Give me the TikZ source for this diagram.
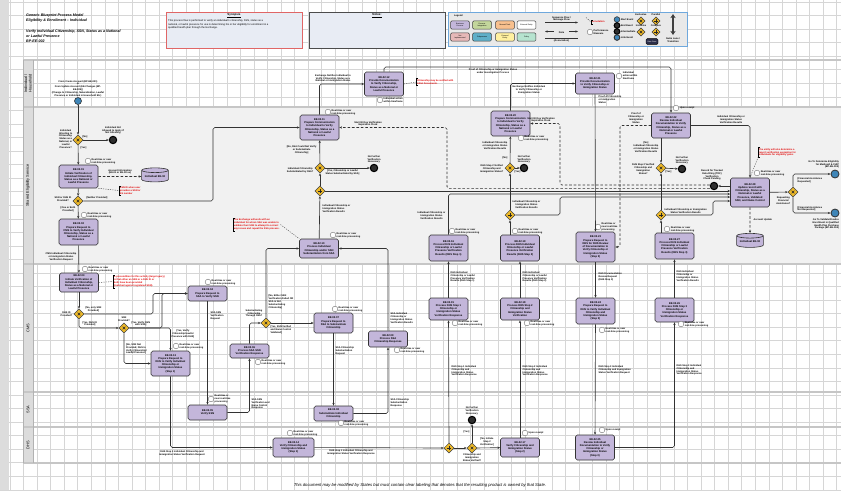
\documentclass[tikz,border=0pt]{standalone}
\usepackage{fontspec}
\setmainfont{Liberation Sans}
\usetikzlibrary{shapes.geometric,arrows.meta,positioning}

\definecolor{taskfill}{HTML}{C3B6DA}
\definecolor{gwfill}{HTML}{EDB92A}
\definecolor{lanegray}{HTML}{F1F1F1}
\definecolor{hdrgray}{HTML}{DCDCDC}
\definecolor{gridgray}{HTML}{D6D6D6}
\definecolor{noteblue}{HTML}{E8ECF4}
\definecolor{startblue}{HTML}{3F86B8}
\definecolor{annred}{HTML}{E00000}
\definecolor{synred}{HTML}{E06666}
\definecolor{legblue}{HTML}{6FA8DC}
\definecolor{leggreen}{HTML}{C3D69B}
\definecolor{legorange}{HTML}{F8C08E}
\definecolor{legpink}{HTML}{E6B8B7}
\definecolor{legteal}{HTML}{5FAFC8}
\definecolor{legyellow}{HTML}{FFF0A0}
\definecolor{legmint}{HTML}{B6E3CF}
\definecolor{navy}{HTML}{2B2E4A}

\newcommand\tf{\fontsize{2.25}{2.75}\selectfont\bfseries}
\newcommand\lf{\fontsize{2.05}{2.45}\selectfont\bfseries}
\newcommand\rtp{Real-time or near\\real-time processing}

\begin{document}
\begin{tikzpicture}[x=0.03cm, y=-0.03cm,
  task/.style={rectangle, draw=black!80, line width=0.55pt, rounded corners=1.5pt, fill=taskfill, minimum width=1.17cm, align=center, inner sep=0.3pt, font=\tf},
  gwbase/.style={diamond, draw=black!75, line width=0.45pt, fill=gwfill, minimum size=0.3cm, inner sep=0pt},
  gw/.style={gwbase, path picture={\draw[line width=0.5pt, black!85]
      ([shift={(-0.04cm,-0.04cm)}]path picture bounding box.center) -- ([shift={(0.04cm,0.04cm)}]path picture bounding box.center)
      ([shift={(-0.04cm,0.04cm)}]path picture bounding box.center) -- ([shift={(0.04cm,-0.04cm)}]path picture bounding box.center);}},
  gwp/.style={gwbase, path picture={\draw[line width=0.6pt, black!85]
      ([xshift=-0.05cm]path picture bounding box.center) -- ([xshift=0.05cm]path picture bounding box.center)
      ([yshift=-0.05cm]path picture bounding box.center) -- ([yshift=0.05cm]path picture bounding box.center);}},
  startev/.style={circle, draw=black!80, fill=startblue, line width=0.5pt, minimum size=0.21cm, inner sep=0pt},
  endev/.style={circle, draw=black, fill=black!82, line width=0.9pt, minimum size=0.22cm, inner sep=0pt},
  linkev/.style={circle, draw=black!80, fill=startblue, line width=0.7pt, minimum size=0.24cm, inner sep=0pt},
  pm/.style={circle, draw=black!55, fill=white, line width=0.35pt, minimum size=0.17cm, inner sep=0pt},
  pmlbl/.style={font=\lf, align=left, inner sep=0.4pt},
  lbl/.style={font=\lf, align=center, inner sep=0.3pt},
  redann/.style={font=\lf, text=annred, align=left, anchor=west, inner sep=0.6pt},
  brk/.style={draw=black, line width=0.45pt},
  store/.style={cylinder, shape border rotate=90, aspect=0.22, draw=black!80, line width=0.5pt, fill=taskfill, minimum width=0.8cm, minimum height=0.42cm, font=\tf, inner sep=0.4pt},
  arr/.style={-{Stealth[length=2.3pt,width=1.9pt]}, line width=0.55pt, draw=black!80, rounded corners=1.5pt},
  dsh/.style={arr, dash pattern=on 2.2pt off 1.6pt},
  assoc/.style={line width=0.35pt, draw=black!70, dash pattern=on 1pt off 1pt},
  gridln/.style={draw=gridgray, line width=0.45pt},
  laneln/.style={draw=gray!45, line width=1.3pt},
  lanetxt/.style={rotate=90, font=\fontsize{3.3}{3.9}\selectfont, align=center},
  legbox/.style={rectangle, rounded corners=1pt, draw=black!75, line width=0.4pt, minimum width=0.56cm, minimum height=0.25cm, align=center, inner sep=0.2pt, font=\fontsize{1.6}{1.9}\selectfont}
]
\useasboundingbox (0,0) rectangle (841,490);
\fill[white] (0,0) rectangle (841,490);

% grid paper
\foreach \gx in {10,23.55,...,841} \draw[gridln] (\gx,0) -- (\gx,490);
\foreach \gy in {2,15.55,...,490} \draw[gridln] (0,\gy) -- (841,\gy);
\fill[hdrgray] (0,0) rectangle (9,490);

% swim lanes
\fill[lanegray] (33,107) rectangle (841,264);
\fill[hdrgray] (23,60) rectangle (33,463);
\foreach \ly in {60,107,264,392,427,463} \draw[laneln] (23,\ly) -- (841,\ly);
\draw[draw=gray!60, line width=0.6pt] (23,60) -- (23,463) (33,60) -- (33,463);
\node[lanetxt] (lnInd) at (28,83.5) {Individual /\\Household};
\node[lanetxt] (lnShr) at (28,185.5) {Shared Eligibility Service};
\node[lanetxt] (lnCms) at (28,328) {CMS};
\node[lanetxt] (lnSsa) at (28,409.5) {SSA};
\node[lanetxt] (lnDhs) at (28,445) {DHS};

% header
\node[anchor=north west, font=\fontsize{3.1}{4}\selectfont\bfseries\itshape, align=left, inner sep=0pt] (title) at (26,13.5)
  {Generic Blueprint Process Model\\Eligibility \& Enrollment -- Individual\\[6pt]Verify Individual Citizenship, SSN, Status as a National\\or Lawful Presence\\BP-EE-002};
\node[draw=synred, line width=0.7pt, fill=noteblue, minimum width=4.08cm, minimum height=1.08cm] (synopsis) at (234,30) {};
\node[font=\fontsize{2.5}{3}\selectfont\bfseries] (synT) at (234,15.5) {\underline{Synopsis}};
\node[anchor=north west, font=\fontsize{2.2}{2.9}\selectfont, align=left, inner sep=0pt] (synB) at (168,19.5)
  {This process flow is performed to verify an individual's citizenship, SSN, status as a\\national, or lawful presence for use in determining his or her eligibility for enrollment in a\\qualified health plan through the Exchange.};
\node[draw=black!70, line width=0.7pt, fill=noteblue, minimum width=4.08cm, minimum height=1.08cm] (notes) at (377,30) {};
\node[font=\fontsize{2.5}{3}\selectfont\bfseries] (notesT) at (377,15.5) {\underline{Notes:}};

% legend
\node[draw=legblue, line width=0.7pt, fill=gray!17, minimum width=7.17cm, minimum height=1.02cm] (legend) at (567.5,29) {};
\node[font=\lf, anchor=west] (legT) at (450,15.5) {Legend};
\node[legbox, fill=taskfill] (lg1) at (460,25) {Business\\Process};
\node[legbox, fill=leggreen] (lg2) at (482,25) {Process\\Integration};
\node[legbox, fill=legorange] (lg3) at (505,25) {Manual Task};
\node[legbox, fill=white] (lg4) at (526.5,25) {External Entity};
\node[legbox, fill=legpink] (lg5) at (460,37) {Not\\Implemented};
\node[legbox, fill=legteal] (lg6) at (482,37) {Subprocess};
\node[legbox, fill=legyellow] (lg7) at (505,37) {External\\Entity};
\node[legbox, fill=legmint] (lg8) at (526.5,37) {Policy};
\coordinate (lfa) at (545,22.5); \coordinate (lfb) at (578,22.5);
\draw[arr] (lfa) -- (lfb);
\node[lbl, anchor=south] (lfT) at (561.5,22) {Sequence Flow /\\Message Flow};
\coordinate (lda) at (545,31.5); \coordinate (ldb) at (554,31.5);
\coordinate (ldc) at (569,31.5); \coordinate (ldd) at (578,31.5);
\draw[arr] (ldb) -- (lda);
\draw[arr] (ldc) -- (ldd);
\node[lbl] (ldT) at (561.5,32.5) {Data};
\coordinate (laa) at (545,38); \coordinate (lab) at (578,38);
\draw[line width=0.5pt, black!80] (laa) -- (lab);
\node[lbl] (laT) at (561.5,40.8) {(Association)};
\node[redann] (lgAnn) at (591,22) {Annotation};
\draw[brk] ([xshift=0.06cm]lgAnn.north west) -- (lgAnn.north west) -- (lgAnn.south west) -- ([xshift=0.06cm]lgAnn.south west);
\coordinate (lgAs) at (586,17.5);
\draw[assoc] (lgAs) -- (lgAnn.west);
\node[pm, label={[pmlbl]east:Performance\\Measure}] (lgPm) at (590,32) {};
\node[startev, minimum size=0.17cm, label={[pmlbl]east:Start Event}] (lgS) at (617,19.5) {};
\node[endev, minimum size=0.17cm, label={[pmlbl]east:End Event}] (lgE) at (617,25.5) {};
\node[endev, minimum size=0.17cm, label={[pmlbl]east:Intermediate}] (lgI) at (617,31.5) {};
\node[startev, minimum size=0.17cm, line width=0.8pt, label={[pmlbl]east:Link Event}] (lgL) at (617,37.5) {};
\node[gw, minimum size=0.25cm, label={[pmlbl]north:Exclusive}] (lgG1) at (641,21) {};
\node[gwp, minimum size=0.25cm, label={[pmlbl]north:Parallel}] (lgG2) at (656,21) {};
\node[gw, minimum size=0.25cm, label={[pmlbl]north:Inclusive}] (lgG3) at (641,32) {};
\node[gwp, minimum size=0.25cm, label={[pmlbl]north:Complex}] (lgG4) at (656,32) {};
\node[rectangle, rounded corners=1pt, draw=black, fill=navy, text=white, minimum width=0.36cm, minimum height=0.17cm, inner sep=0.2pt, font=\fontsize{1.6}{1.9}\selectfont] (lgDs) at (652,41.5) {Data Store};
\coordinate (lgu) at (673,14); \coordinate (lgd) at (673,35);
\draw[line width=1.4pt, black!75, {Stealth[length=3.5pt,width=4.5pt]}-{Stealth[length=3.5pt,width=4.5pt]}] (lgu) -- (lgd);
\node[lbl] (lgSw) at (673,40.5) {Swim Lane /\\Transition};

% Individual / Household lane
\node[startev] (start) at (78,101) {};
\node[lbl, anchor=south] (lStart) at (78,97.5) {From Create Account (BP-EE-001)\\or\\From Update Account (EE-Changes (BP-\\EE-005))\\(Change to Citizenship, Naturalization, Lawful\\Presence or Individual in Household Etc)};
\node[task, minimum height=0.72cm] (indDocA) at (384,84) {EE-02.12\\Provide Documentation\\to Verify Citizenship,\\Status as a National or\\Lawful Presence};
\node[task, minimum height=0.63cm] (indDocB) at (595,83.5) {EE-02.21\\Provide Documentation\\to Verify Citizenship or\\Immigration Status};
\node[pm, label={[pmlbl]east:Individual action\\within timeframe}] (pm1) at (380,100) {};
\node[pm, label={[pmlbl]east:Individual\\action within\\timeframe}] (pm2) at (619,76) {};
\node[redann] (r4) at (416,82) {Citizenship may be verified with\\Initial Documents.};

% Shared Eligibility Service lane
\node[gw] (gAtt) at (78,140) {};
\node[endev] (endNo) at (113,140) {};
\node[task, minimum height=0.69cm] (initVer) at (78.5,176.5) {EE-02.01\\Initiate Verification of\\Individual Citizenship,\\Status as a National or\\Lawful Presence};
\node[store] (store1) at (155,176.5) {Individual EE-02};
\node[redann] (r1) at (119,190.5) {SSN ID when user\\provides a SSN or\\SS number};
\node[gw] (gId) at (78,201) {};
\node[task, minimum height=0.78cm] (prepCMS) at (78.5,232) {EE-02.02\\Prepare Request to\\CMS to Verify Individual\\Citizenship, Status as a\\National or Lawful\\Presence};
\node[task, minimum height=0.75cm] (commA) at (319.5,127.5) {EE-02.11\\Prepare Communication\\to Individual to Verify\\Citizenship, Status as a\\National or Lawful\\Presence};
\node[gw] (gSsaCit) at (320,168) {};
\node[endev] (endA) at (374,168) {};
\node[gwp] (gSsaJoin) at (320,191) {};
\node[task, minimum height=0.57cm] (procSSA) at (319,248.5) {EE-02.10\\Process Individual\\Citizenship and/or SSN\\Substantiation from SSA};
\node[redann] (r3) at (233,224.5) {The Exchange will work with an\\individual for whom SSA was unable to\\validate their SSN to attempt to correct\\any issues and repeat the SSA process.};
\node[task, minimum height=0.75cm] (commB) at (510.5,123.5) {EE-02.20\\Prepare Communication\\to Individual to Verify\\Citizenship, Status as a\\National or Lawful\\Presence};
\node[gw] (gS2) at (510,168) {};
\node[endev] (endB) at (524,168) {};
\node[gwp] (gS2b) at (510,215) {};
\node[task, minimum height=0.78cm] (res1) at (448.5,248) {EE-02.16\\Process DHS Individual\\Citizenship or Lawful\\Presence Verification\\Results (DHS Step 1)};
\node[task, minimum height=0.78cm] (res2) at (520,248) {EE-02.19\\Process DHS Individual\\Citizenship or Lawful\\Presence Verification\\Results (DHS Step 2)};
\node[task, minimum height=0.9cm] (prepRev) at (595.5,247) {EE-02.23\\Prepare Request to\\DHS for DHS Review\\of Documentation to\\Verify Citizenship or\\Immigration Status\\(Step 3)};
\node[task, minimum height=0.75cm] (review) at (671,125.5) {EE-02.22\\Review Individual\\Documentation to Verify\\Citizenship, Status as a\\National or Lawful\\Presence};
\node[gw] (gRev) at (661,168) {};
\node[endev] (endC) at (682,169) {};
\node[gwp] (gRevb) at (661,215) {};
\node[task, minimum height=0.78cm] (res3) at (674.5,246) {EE-02.27\\Process DHS Individual\\Citizenship or Lawful\\Presence Verification\\Results (DHS Step 3)};
\node[task, minimum height=0.87cm] (update) at (750,192.5) {EE-02.28\\Update record with\\Citizenship, Status as a\\National or Lawful\\Presence, Validated\\SSN, and Name Control};
\node[endev] (endTrk) at (714,186) {};
\node[store] (store2) at (750,242) {Individual EE-02};
\node[redann] (r5) at (758,152.5) {The entity will also determine a\\report verification exemption for\\individuals for eligibility gates};
\node[gw] (gFin) at (793,192) {};
\node[linkev] (linkE) at (835,174) {};
\node[linkev] (linkF) at (835,213) {};

% CMS lane
\node[task, minimum height=0.57cm] (cmsInit) at (79,282.5) {EE-02.03\\Initiate Verification of\\Individual Citizenship,\\Status as a National or\\Lawful Presence};
\node[redann] (r2) at (113,281.5) {A precondition for this activity (target query)\\is that either an SSN or a DHS ID or\\both have been provided\\(matched against registered SSN).};
\node[gw] (gDhsId) at (79,314) {};
\node[gw] (gSsn) at (124,328) {};
\node[task, minimum height=0.45cm] (prepSSA) at (207.5,293.5) {EE-02.04\\Prepare Request to\\SSA to Verify SSN};
\node[task, minimum height=0.42cm] (procSSN) at (249.5,351) {EE-02.06\\Process SSA SSN\\Verification Response};
\node[gw] (gSub) at (266,323) {};
\node[task, minimum height=0.6cm] (prepSub) at (333.5,323) {EE-02.07\\Prepare Request to\\SSA to Substantiate\\Citizenship};
\node[task, minimum height=0.48cm] (procCit) at (388,339) {EE-02.09\\Process SSA\\Citizenship Response};
\node[task, minimum height=0.75cm] (prepDHS1) at (170.5,363.5) {EE-02.13\\Prepare Request to\\DHS to Verify Individual\\Citizenship or\\Immigration Status\\(Step 1)};
\node[task, minimum height=0.66cm] (procDHS1) at (448.5,309) {EE-02.15\\Process DHS Step 1\\Citizenship or\\Immigration Status\\Verification Response};
\node[task, minimum height=0.66cm] (procDHS2) at (520,309) {EE-02.18\\Process DHS Step 2\\Citizenship and\\Immigration Status\\Verification};
\node[task, minimum height=0.78cm] (prepDHS3) at (595.5,311) {EE-02.24\\Prepare Request to\\DHS to Verify Individual\\Citizenship and\\Immigration Status\\(Step 3)};
\node[task, minimum height=0.72cm] (procDHS3) at (674.5,310) {EE-02.26\\Process DHS Step 3\\Citizenship or\\Immigration Status\\Verification Response};

% SSA lane
\node[task, minimum height=0.45cm] (verSSN) at (207.5,412.5) {EE-02.05\\Verify SSN};
\node[task, minimum height=0.45cm] (subCit) at (333.5,413.5) {EE-02.08\\Substantiate Individual\\Citizenship};

% DHS lane
\node[task, minimum height=0.57cm, minimum width=1.23cm] (dhs1) at (293.5,447.5) {EE-02.14\\Verify Citizenship and\\Immigration Status\\(Step 1)};
\node[gwp] (gDhs1) at (449,448) {};
\node[gw] (gVer1) at (472,448) {};
\node[endev] (endD) at (472,420) {};
\node[task, minimum height=0.57cm] (dhs2) at (520,447.5) {EE-02.17\\Verify Citizenship and\\Immigration Status\\(Step 2)};
\node[task, minimum height=0.75cm] (dhs3) at (595,447.5) {EE-02.25\\Review Individual\\Documentation to Verify\\Citizenship or\\Immigration Status\\(Step 3)};

% processing measures
\node[pm, label={[pmlbl]east:\rtp}] (pm3) at (88,161) {};
\node[pm, label={[pmlbl]east:\rtp}] (pm4) at (84,215) {};
\node[pm, label={[pmlbl]east:\rtp}] (pm5) at (85,269) {};
\node[pm, label={[pmlbl]east:\rtp}] (pm6) at (208,282) {};
\node[pm, label={[pmlbl]east:\rtp}] (pm7) at (176,346) {};
\node[pm, label={[pmlbl]east:Real-time or\\near real-time\\processing}] (pm8) at (211,399) {};
\node[pm, label={[pmlbl]east:\rtp}] (pm9) at (258,362) {};
\node[pm, label={[pmlbl]east:\rtp}] (pm10) at (335,309) {};
\node[pm, label={[pmlbl]east:\rtp}] (pm11) at (341,423) {};
\node[pm, label={[pmlbl]east:\rtp}] (pm12) at (397,350) {};
\node[pm, label={[pmlbl]east:\rtp}] (pm13) at (333,235) {};
\node[pm, label={[pmlbl]east:\rtp}] (pm14) at (328,112) {};
\node[pm, label={[pmlbl]east:\rtp}] (pm15) at (521,138) {};
\node[pm, label={[pmlbl]east:\rtp}] (pm16) at (452,231) {};
\node[pm, label={[pmlbl]east:\rtp}] (pm17) at (515,231) {};
\node[pm, label={[pmlbl]east:\rtp}] (pm18) at (455,323) {};
\node[pm, label={[pmlbl]east:\rtp}] (pm19) at (527,323) {};
\node[pm, label={[pmlbl]east:\rtp}] (pm20) at (290,433) {};
\node[pm, label={[pmlbl]east:Upon receipt}] (pm21) at (525,433) {};
\node[pm, label={[pmlbl]east:Upon receipt}] (pm22) at (676,108) {};
\node[pm, label={[pmlbl]east:\rtp}] (pm23) at (757,173) {};
\node[pm, label={[pmlbl]east:Real-time or\\near real-time\\processing}] (pm24) at (598,227) {};
\node[pm, label={[pmlbl]east:\rtp}] (pm25) at (667,229) {};
\node[pm, label={[pmlbl]east:\rtp}] (pm26) at (602,330) {};
\node[pm, label={[pmlbl]east:\rtp}] (pm27) at (681,324) {};
\node[pm, label={[pmlbl]east:Upon receipt}] (pm28) at (602,430) {};

% bend points
\coordinate (cA) at (213,127.5);
\coordinate (cB) at (153,293.5);
\coordinate (cC) at (162,293.5);
\coordinate (yS1) at (448.5,194);
\coordinate (yS2) at (560,197);
\coordinate (yR) at (713,201);
\coordinate (dA) at (447,127.5);
\coordinate (dB) at (560,123.5);
\coordinate (dR) at (620,247);
\coordinate (cTop) at (384,67);

% sequence flows
\draw[arr] (start) -- (gAtt);
\draw[arr] (gAtt) -- (endNo);
\draw[arr] (gAtt) -- (initVer);
\draw[arr] (initVer) -- (gId);
\draw[arr] (gId.east) -| (cA) -- (commA.west);
\draw[arr] (gId) -- (prepCMS);
\draw[arr] (prepCMS) -- (cmsInit);
\draw[arr] (cmsInit) -- (gDhsId);
\draw[arr] (gDhsId.east) -| (cB) -- (prepSSA.west);
\draw[arr] (gDhsId.south) |- (gSsn.west);
\draw[arr] (gSsn.east) -| (cC) -- (prepSSA.west);
\draw[arr] (gSsn.east) -| (prepDHS1.north);
\draw[arr] (gSsn.south) |- (prepDHS1.west);
\draw[arr] (prepSSA) -- (verSSN);
\draw[arr] (verSSN.east) -| (procSSN.south);
\draw[arr] (procSSN.north) |- (gSub.west);
\draw[arr] (gSub.north) |- (procSSA.west);
\draw[arr] (gSub) -- (prepSub);
\draw[arr] (prepSub) -- (subCit);
\draw[arr] (subCit.east) -| (procCit.south);
\draw[arr] (procCit.north) |- (procSSA.east);
\draw[arr] (procSSA) -- (gSsaJoin);
\draw[arr] (gSsaJoin) -- (gSsaCit);
\draw[arr] (gSsaCit) -- (commA);
\draw[arr] (gSsaCit) -- (endA);
\draw[arr] (gSsaJoin.east) -- (gSsaJoin -| update.west);
\draw[arr] (commA.north) |- (indDocA.west);
\draw[arr] (indDocA.north) -- (cTop) -| (review.north);
\draw[arr] (gS2) -- (commB);
\draw[arr] (gS2) -- (endB);
\draw[arr] (gS2b) -- (gS2);
\draw[arr] (gS2b |- res2.north) -- (gS2b);
\draw[arr] (gS2b.east) -| (yS2) -- (yS2 -| update.west);
\draw[arr] (res1.north) -- (yS1) -- (yS1 -| update.west);
\draw[arr] (prepDHS1.south) |- (dhs1.west);
\draw[arr] (dhs1) -- (gDhs1);
\draw[arr] (gDhs1) -- (procDHS1);
\draw[arr] (procDHS1) -- (res1);
\draw[arr] (gDhs1) -- (gVer1);
\draw[arr] (gVer1) -- (endD);
\draw[arr] (gVer1) -- (dhs2);
\draw[arr] (dhs2) -- (procDHS2);
\draw[arr] (procDHS2) -- (res2);
\draw[arr] (commB.north) |- (indDocB.west);
\draw[arr] (indDocB) -- (prepRev);
\draw[arr] (prepRev) -- (prepDHS3);
\draw[arr] (prepDHS3) -- (dhs3);
\draw[arr] (dhs3.east) -| (procDHS3.south);
\draw[arr] (procDHS3) -- (res3);
\draw[arr] (res3.north -| gRevb) -- (gRevb);
\draw[arr] (gRevb.east) -| (yR) -- (yR -| update.west);
\draw[arr] (gRevb) -- (gRev);
\draw[arr] (review.south -| gRev) -- (gRev);
\draw[arr] (gRev) -- (endC);
\draw[arr] (review.east) -| (update.north);
\draw[arr] (update.west |- endTrk) -- (endTrk);
\draw[arr] (update) -- (gFin);
\draw[arr] (gFin.north) |- (linkE);
\draw[arr] (gFin.south) |- (linkF);

% dashed flows
\draw[dsh] ([yshift=0.03cm]endTrk.west) -| (dB) -- (commB.east);
\draw[dsh] ([yshift=-0.07cm]endTrk.west) -| (dA) -- (commA.east);
\draw[dsh] (review.west) -| (dR) -- (prepRev.east);
\draw[dsh] (initVer.east) -- (store1.west);
\draw[dsh] (update) -- (store2);

% annotations
\draw[brk] ([xshift=0.06cm]r1.north west) -- (r1.north west) -- (r1.south west) -- ([xshift=0.06cm]r1.south west);
\draw[brk] ([xshift=0.06cm]r2.north west) -- (r2.north west) -- (r2.south west) -- ([xshift=0.06cm]r2.south west);
\draw[brk] ([xshift=0.06cm]r3.north west) -- (r3.north west) -- (r3.south west) -- ([xshift=0.06cm]r3.south west);
\draw[brk] ([xshift=0.06cm]r4.north west) -- (r4.north west) -- (r4.south west) -- ([xshift=0.06cm]r4.south west);
\draw[brk] ([xshift=0.06cm]r5.north west) -- (r5.north west) -- (r5.south west) -- ([xshift=0.06cm]r5.south west);
\draw[assoc] (initVer.south east) -- (r1.west);
\draw[assoc] (cmsInit.east) -- (r2.west);
\draw[assoc] (r3.east) -- (procSSA.north west);
\draw[assoc] (indDocA.east) -- (r4.west);
\draw[assoc] (update.north) -- (r5.south west);

% flow labels
\node[lbl, anchor=east] (lAtt) at (73,139) {Individual\\Attesting to\\Citizenship,\\Status as a\\National, or\\Lawful\\Presence?};
\node[lbl, anchor=south west] (lAttNo) at (82,139) {[No]};
\node[lbl, anchor=north west] (lAttYes) at (80,146) {[Yes]};
\node[lbl, anchor=south] (lEndNo) at (113,135) {Individual Not\\Allowed to Apply if\\Not Attesting};
\node[lbl, anchor=south] (lAcct) at (120,175) {Account Information\\(EE-01 or EE-0X.xx)};
\node[lbl, anchor=east] (lId) at (72,199) {SSN or DHS ID\\Provided?};
\node[lbl, anchor=south west] (lNeither) at (86,200) {[Neither Provided]};
\node[lbl, anchor=north east] (lOneBoth) at (76,206) {[One or Both\\Provided]};
\node[lbl, anchor=east] (lCmsReq) at (77,257) {CMS Individual Citizenship\\or Immigration Status\\Verification Request};
\node[lbl, anchor=east] (lDhsId) at (73,314) {DHS ID\\Provided?};
\node[lbl, anchor=south west] (lOnlySsn) at (85,312.5) {[No, only SSN\\Provided]};
\node[lbl, anchor=south west] (lDhsIdYes) at (82,327) {[Yes, DHS ID\\Provided]};
\node[lbl, anchor=south] (lSsn) at (124,322) {SSN\\Provided?};
\node[lbl, anchor=south west] (lSsnSsa) at (131,327) {[Yes, Verify SSN\\with SSA]};
\node[lbl, anchor=north west] (lSsnDhs) at (171,329) {[Yes, Verify\\Citizenship/Lawful\\Presence with DHS]};
\node[lbl, anchor=north west, align=left] (lNoSsn) at (125.5,343) {[No, SSN Not\\Provided; DHS to\\Verify Citizenship/\\Lawful Presence]};
\node[lbl, anchor=west, align=left] (lSsaReq) at (210,316) {SSA SSN\\Verification\\Request};
\node[lbl, anchor=north west, align=left] (lSsaResp) at (251,398) {SSA SSN\\Verification and\\Name Control\\Response};
\node[lbl, anchor=south east] (lSub) at (263,318) {Substantiating\\Citizenship\\Through SSA?};
\node[lbl, anchor=west, align=left] (lSubNo) at (268,302) {[No, Either SSN\\Verification Failed OR\\SSA is Not\\Substantiating\\Citizenship]};
\node[lbl, anchor=north west, align=left] (lSubYes) at (270,325) {[Yes, SSN Verified\\and Name Control\\Validated]};
\node[lbl, anchor=west, align=left] (lSubReq) at (335,351) {SSA Citizenship\\Substantiation\\Request};
\node[lbl, anchor=west, align=left] (lSubResp) at (390,403) {SSA Citizenship\\Substantiation\\Response};
\node[lbl, anchor=west, align=left] (lCitRes) at (390,318) {SSA Individual\\Citizenship or\\Immigration Status\\Verification Results};
\node[lbl, anchor=west, align=left] (lSsaRes) at (322,209) {Individual Citizenship or\\Immigration Status\\Verification Results};
\node[lbl, anchor=east] (lSsaCit) at (314,170) {Individual Citizenship\\Substantiated by SSA?};
\node[lbl, anchor=east] (lSsaNo) at (317,150) {[No, SSA Could Not Verify\\or Substantiate\\Citizenship]};
\node[lbl, anchor=north west] (lSsaYes) at (325,169.5) {[Yes, Citizenship or Lawful\\Status Substantiated by SSA]};
\node[lbl, anchor=south] (lEndA) at (374,164) {No Further\\Verification\\Necessary};
\node[lbl, anchor=south] (lNotifyA) at (333,83) {Exchange Notifies Individual to\\Verify Citizenship, Status as a\\National or Immigration Status};
\node[lbl, anchor=north] (lProofA) at (493,68.5) {Proof of Citizenship or Immigration Status\\under Investigation Process};
\node[lbl, anchor=south] (lClockA) at (368,127) {Start 90 Day Verification\\Expiration Clock};
\node[lbl, anchor=south] (lClockB) at (541,123) {Start 90 Day Verification\\Expiration Clock};
\node[lbl, anchor=north west] (lNotifyB) at (512,85) {Exchange Notifies Individual\\to Verify Citizenship or\\Immigration Status};
\node[lbl, anchor=east] (lS2res) at (508,146) {Individual Citizenship\\or Immigration Status\\Verification Results};
\node[lbl, anchor=east] (lS2No) at (508,158) {[No]};
\node[lbl, anchor=east] (lS2) at (504,169) {DHS Step 2 Verified\\Citizenship and\\Immigration Status?};
\node[lbl, anchor=north west] (lS2Yes) at (514,170) {[Yes]};
\node[lbl, anchor=south] (lEndB) at (524,164) {No Further\\Verification\\Necessary};
\node[lbl, anchor=east] (lRes1) at (446,216) {Individual Citizenship or\\Immigration Status\\Verification Results};
\node[lbl, anchor=west] (lRes2) at (512,205) {Individual Citizenship or\\Immigration Status\\Verification Results};
\node[lbl, anchor=west, align=left] (lP1) at (450,277) {DHS Individual\\Citizenship or Lawful\\Presence Verification\\Results (DHS Step 1)};
\node[lbl, anchor=west, align=left] (lP2) at (522,277) {DHS Individual\\Citizenship or Lawful\\Presence Verification\\Results (DHS Step 2)};
\node[lbl, anchor=west, align=left] (lD1resp) at (451,371) {DHS Step 1 Individual\\Citizenship and\\Immigration Status\\Verification Response};
\node[lbl, anchor=west, align=left] (lD2resp) at (522,371) {DHS Step 2 Individual\\Citizenship and\\Immigration Status\\Verification Response};
\node[lbl, anchor=north] (lD1req) at (182,450) {DHS Step 1 Individual Citizenship and\\Immigration Status Verification Request};
\node[lbl, anchor=north] (lD1out) at (351,449.5) {DHS Step 1 Individual Citizenship and\\Immigration Status Verification Response};
\node[lbl, anchor=north] (lVer1) at (472,453) {Citizenship and\\Immigration\\Status Verified?};
\node[lbl, anchor=east] (lVer1Yes) at (470,432) {[Yes]};
\node[lbl, anchor=south] (lVer1No) at (487,446.5) {[No, Initiate\\Step 2\\Verification]};
\node[lbl, anchor=south] (lEndD) at (472,415.5) {No Further\\Verification\\Necessary};
\node[lbl, anchor=south] (lEndC) at (682,165) {No Further\\Verification\\Necessary};
\node[lbl, anchor=east] (lRevRes) at (659,147) {[No]\\Individual Citizenship\\or Immigration Status\\Verification Results};
\node[lbl, anchor=east] (lRev) at (655,169) {DHS Step 2 Verified\\Citizenship and\\Immigration\\Status?};
\node[lbl, anchor=north west] (lRevYes) at (665,170.5) {[Yes]};
\node[lbl, anchor=south west] (lRevOut) at (664,214) {Individual Citizenship or Immigration\\Status Verification Results};
\node[lbl, anchor=west, align=left] (lProofB) at (598,100) {Proof of Citizenship\\or Immigration\\Status};
\node[lbl, anchor=south] (lProofC) at (636,124) {Proof of\\Citizenship or\\Immigration\\Status};
\node[lbl, anchor=south] (lRevUpd) at (731,124) {Individual Citizenship or\\Immigration Status\\Verification Results};
\node[lbl, anchor=west, align=left] (lDocRev) at (598,277) {DHS Documentation\\Review Request\\(DHS Step 3)};
\node[lbl, anchor=west, align=left] (lD3req) at (598,370) {DHS Step 3 Individual\\Citizenship and Immigration\\Status Verification Request};
\node[lbl, anchor=west, align=left] (lD3resp) at (676,370) {DHS Step 3 Individual\\Citizenship and\\Immigration Status\\Verification Response};
\node[lbl, anchor=west, align=left] (lP3) at (676,276) {DHS Individual\\Citizenship or\\Immigration Status\\Verification Results};
\node[lbl, anchor=south] (lTrk) at (712,181) {Record for Tracked\\Data Filing (TDF)\\Verification\\Check Pending};
\node[lbl, anchor=north east] (lFin) at (791,196) {Requesting\\Financial\\Assistance?};
\node[lbl, anchor=north west, align=left] (lFinYes) at (797,177) {[Financial Assistance\\Requested]};
\node[lbl, anchor=south west, align=left] (lFinNo) at (797,212) {[Financial Assistance\\Not Requested]};
\node[lbl, anchor=south east, align=right] (lLinkE) at (839.5,169) {Go To Determine Eligibility\\for Medicaid \& CHIP\\(BP-EE-003)};
\node[lbl, anchor=north east, align=right] (lLinkF) at (839.5,218) {Go To Validate/Finalize\\Enrollment in Qualified\\Health Plan Purchase\\Package (BP-EE-004)};
\node[lbl, anchor=west] (lAcctUpd) at (753,220) {Account Update};

% footer
\node[font=\fontsize{3.6}{4.2}\selectfont\itshape] (footer) at (420,485) {This document may be modified by States but must contain clear labeling that denotes that the resulting product is owned by that State.};
\end{tikzpicture}
\end{document}
